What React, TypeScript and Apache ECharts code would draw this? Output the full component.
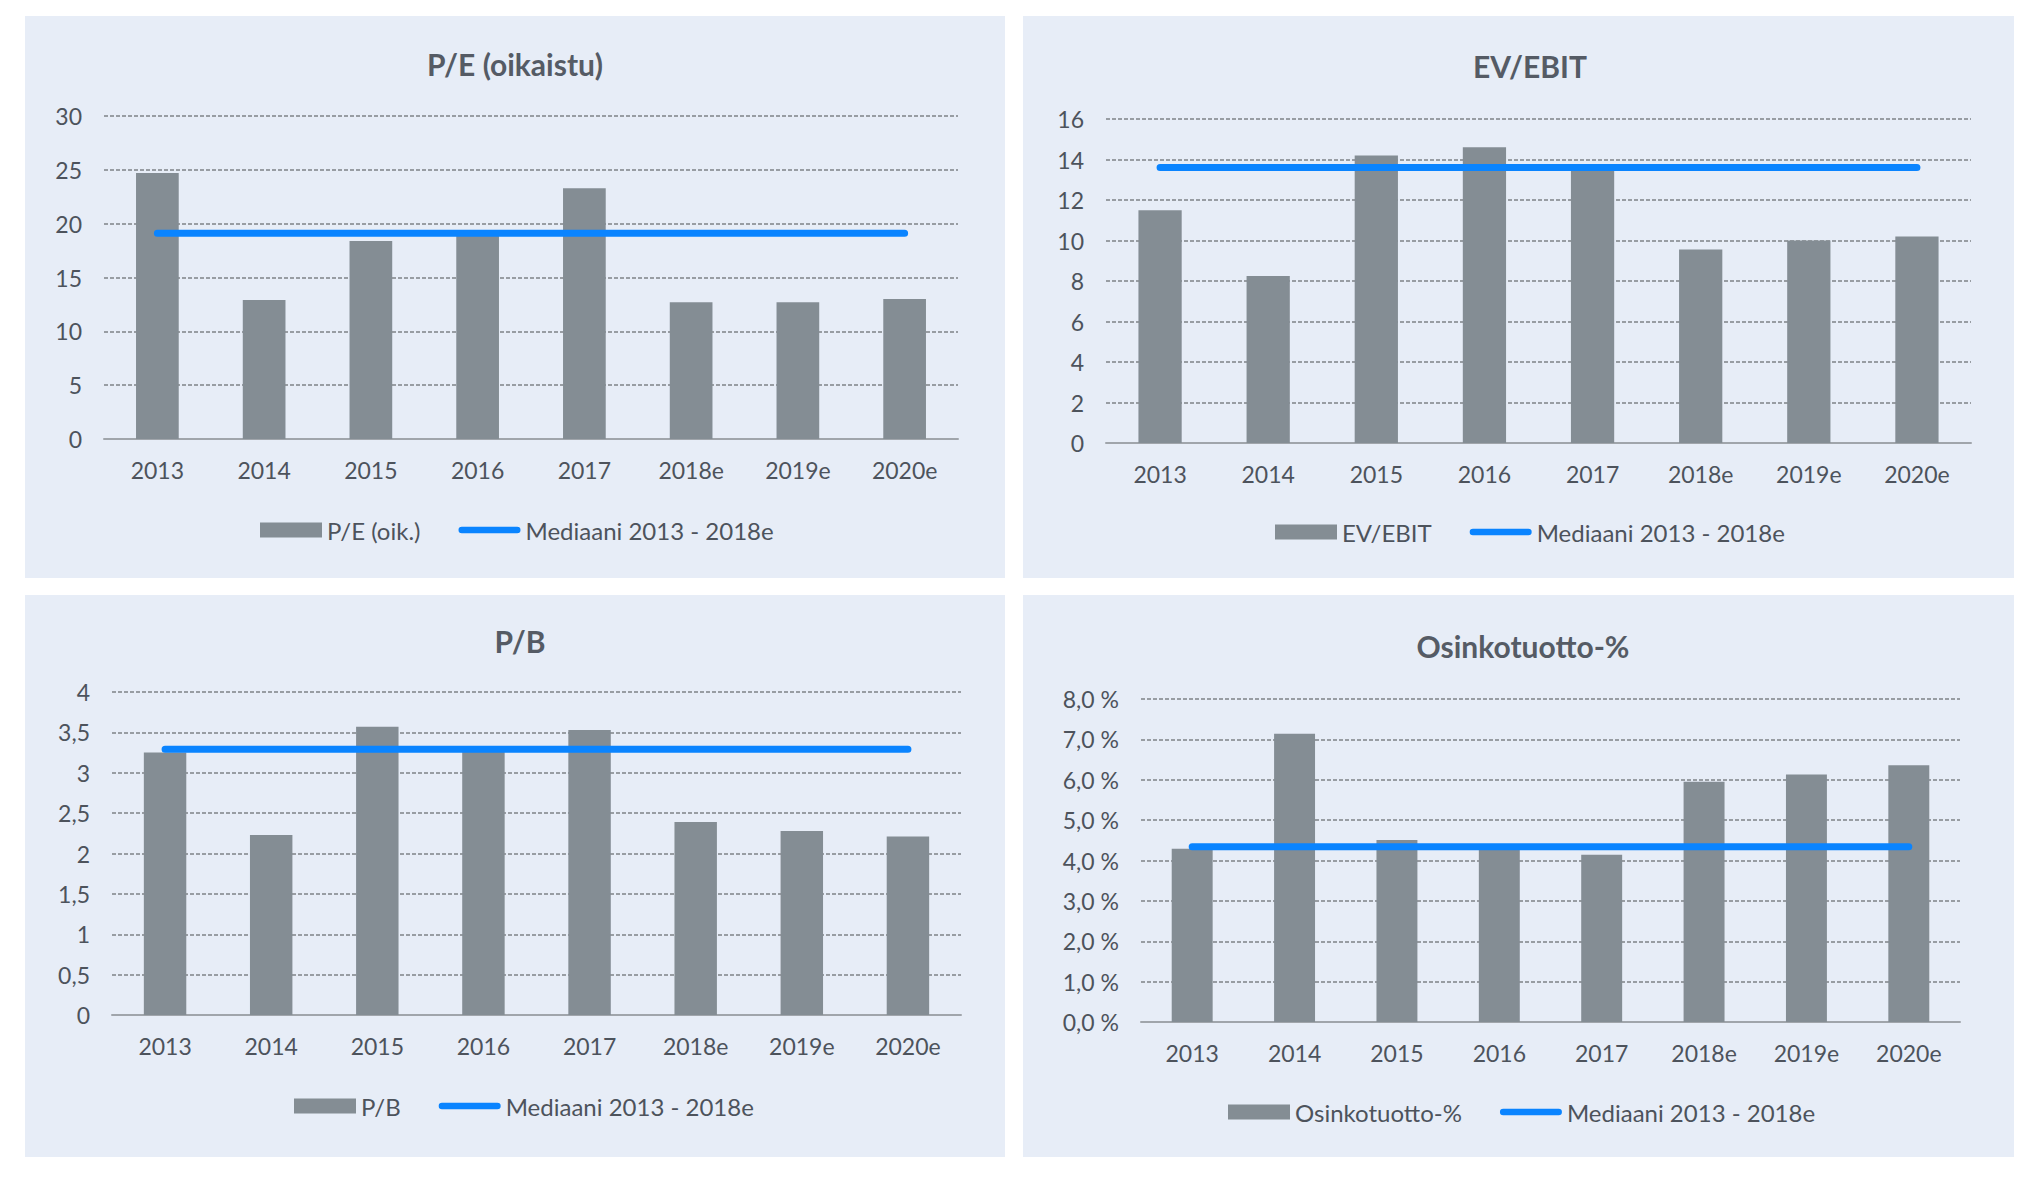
import React, { useEffect, useRef } from "react";
import * as echarts from "echarts";

const years = ["2013", "2014", "2015", "2016", "2017", "2018e", "2019e", "2020e"];

const peValues = [24.7, 12.9, 18.4, 19.2, 23.3, 12.7, 12.7, 13.0];
const peMedian = [19.1, 19.1, 19.1, 19.1, 19.1, 19.1, 19.1, 19.1];

const evValues = [11.5, 8.25, 14.2, 14.6, 13.6, 9.55, 10.0, 10.2];
const evMedian = [13.6, 13.6, 13.6, 13.6, 13.6, 13.6, 13.6, 13.6];

const pbValues = [3.25, 2.23, 3.57, 3.3, 3.53, 2.39, 2.28, 2.21];
const pbMedian = [3.29, 3.29, 3.29, 3.29, 3.29, 3.29, 3.29, 3.29];

const divValues = [4.29, 7.14, 4.51, 4.35, 4.14, 5.95, 6.13, 6.36];
const divMedian = [4.34, 4.34, 4.34, 4.34, 4.34, 4.34, 4.34, 4.34];

const titles = ["P/E (oikaistu)", "EV/EBIT", "P/B", "Osinkotuotto-%"];
const barNames = ["P/E (oik.)", "EV/EBIT", "P/B", "Osinkotuotto-%"];
const medianName = "Mediaani 2013 - 2018e";

const FONT = "Lato, 'Open Sans', sans-serif";
const TEXT = "#4D535C";
const BAR = "#848D94";
const BLUE = "#0A84FF";
const PANEL = "#E7EDF7";
const LINE_ICON = "path://M3.5,0 H62.5 A3.5,3.5 0 0 1 62.5,7 H3.5 A3.5,3.5 0 0 1 3.5,0 Z";

const fmtInt = (v: number) => String(v);
const fmtComma = (v: number) => String(v).replace(".", ",");
const fmtPct = (v: number) => v.toFixed(1).replace(".", ",") + " %";

const defs = [
  {
    values: peValues, median: peMedian, min: 0, max: 30, interval: 5, fmt: fmtInt,
    grid: { left: 104, top: 116, width: 854, height: 323 },
    titleX: 515, titleY: 64, legendLeft: 260, legendTop: 518,
  },
  {
    values: evValues, median: evMedian, min: 0, max: 16, interval: 2, fmt: fmtInt,
    grid: { left: 1106, top: 119, width: 865, height: 324 },
    titleX: 1530, titleY: 66, legendLeft: 1275, legendTop: 520,
  },
  {
    values: pbValues, median: pbMedian, min: 0, max: 4, interval: 0.5, fmt: fmtComma,
    grid: { left: 112, top: 692, width: 849, height: 323 },
    titleX: 520, titleY: 641, legendLeft: 294, legendTop: 1094,
  },
  {
    values: divValues, median: divMedian, min: 0, max: 8, interval: 1, fmt: fmtPct,
    grid: { left: 1141, top: 699, width: 819, height: 323 },
    titleX: 1523, titleY: 646, legendLeft: 1228, legendTop: 1100,
  },
];

const panels = [
  { x: 25, y: 16, w: 980, h: 562 },
  { x: 1023, y: 16, w: 991, h: 562 },
  { x: 25, y: 595, w: 980, h: 562 },
  { x: 1023, y: 595, w: 991, h: 562 },
];

export default function App() {
  const ref = useRef<HTMLDivElement>(null);
  useEffect(() => {
    if (!ref.current) return;
    const chart = echarts.init(ref.current, null, { renderer: "svg" });
    const graphic: any[] = [];
    panels.forEach((p) => {
      graphic.push({
        type: "rect", z: -10, silent: true,
        shape: { x: p.x, y: p.y, width: p.w, height: p.h },
        style: { fill: PANEL },
      });
    });
    defs.forEach((d, i) => {
      graphic.push({
        type: "text", z: 10, x: d.titleX, y: d.titleY,
        style: {
          text: titles[i], fill: "#555B65", font: `bold 30px ${FONT}`,
          textAlign: "center", textVerticalAlign: "middle",
        },
      });
    });
    const option: any = {
      animation: false,
      backgroundColor: "#ffffff",
      graphic,
      grid: defs.map((d) => ({ ...d.grid, containLabel: false })),
      legend: defs.map((d, i) => ({
        left: d.legendLeft, top: d.legendTop, padding: 0, itemGap: 38,
        itemWidth: 62, itemHeight: 15,
        textStyle: { fontSize: 24, color: TEXT, fontFamily: FONT },
        data: [
          { name: barNames[i], icon: "rect" },
          { name: medianName, icon: LINE_ICON },
        ],
      })),
      xAxis: defs.map((d, i) => ({
        type: "category", gridIndex: i, data: years,
        axisLine: { lineStyle: { color: "#A0A5AB", width: 2 } },
        axisTick: { show: false },
        axisLabel: { color: TEXT, fontSize: 23, fontFamily: FONT, margin: 19 },
      })),
      yAxis: defs.map((d, i) => ({
        type: "value", gridIndex: i, min: d.min, max: d.max, interval: d.interval,
        axisLine: { show: false }, axisTick: { show: false },
        axisLabel: { color: TEXT, fontSize: 23, fontFamily: FONT, margin: 22, formatter: d.fmt },
        splitLine: { lineStyle: { color: "#7F8388", width: 1.5, type: [4, 2] } },
      })),
      series: defs.flatMap((d, i) => [
        {
          type: "bar", name: barNames[i], xAxisIndex: i, yAxisIndex: i,
          data: d.values, barWidth: "40%",
          itemStyle: { color: BAR },
          z: 2,
        },
        {
          type: "line", name: medianName, xAxisIndex: i, yAxisIndex: i,
          data: d.median, symbol: "none",
          lineStyle: { color: BLUE, width: 7, cap: "round" },
          itemStyle: { color: BLUE },
          z: 3,
        },
      ]),
    };
    chart.setOption(option);
    return () => chart.dispose();
  }, []);
  return (
    <div
      ref={ref}
      style={{ position: "absolute", left: 0, top: 0, width: 2032, height: 1178 }}
    />
  );
}
